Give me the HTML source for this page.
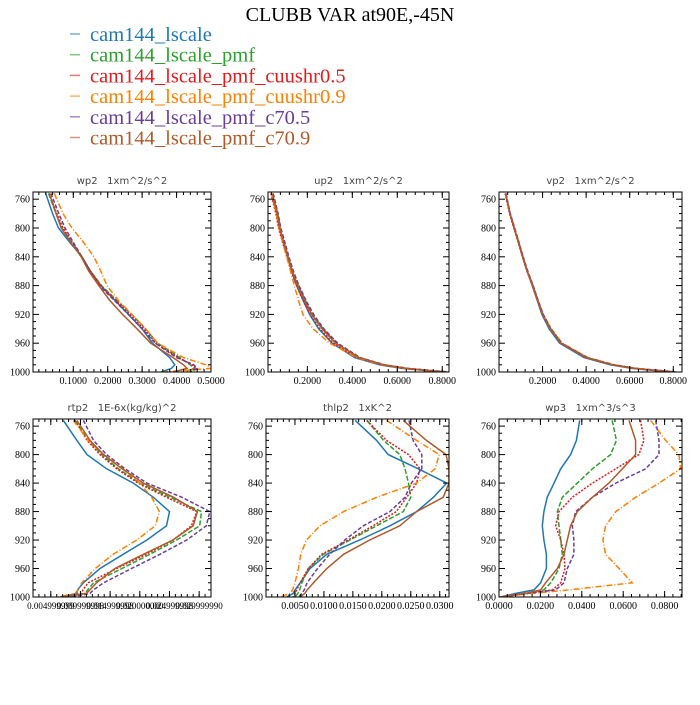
<!DOCTYPE html>
<html><head><meta charset="utf-8">
<style>
body{margin:0;background:#fff;}
svg text{font-family:"Liberation Serif",serif;}
.pt{font-family:"DejaVu Sans","Liberation Sans",sans-serif;font-size:10px;fill:#444;white-space:pre;}
</style></head>
<body>
<svg id="chart" width="700" height="700" xmlns="http://www.w3.org/2000/svg">
<rect width="700" height="700" fill="#fff"/>
<text x="350" y="21" text-anchor="middle" font-size="20" fill="#000">CLUBB VAR at90E,-45N</text>
<g id="legend"></g>
<g id="panels"></g>
</svg>
<script>
const levels=[752,780,800,820,840,860,880,900,920,940,960,980,990,995,1000];
const seriesNames=["cam144_lscale","cam144_lscale_pmf","cam144_lscale_pmf_cuushr0.5","cam144_lscale_pmf_cuushr0.9","cam144_lscale_pmf_c70.5","cam144_lscale_pmf_c70.9"];
const yTicks=[760,800,840,880,920,960,1000];

const wp2_blue=[0.02,0.04,0.057,0.09,0.125,0.15,0.18,0.22,0.26,0.30,0.33,0.38,0.395,0.385,0.355];
const wp2_green=[0.028,0.05,0.067,0.095,0.125,0.15,0.182,0.225,0.27,0.31,0.345,0.41,0.44,0.45,0.43];
const wp2_red=[0.03,0.052,0.07,0.097,0.125,0.15,0.18,0.223,0.265,0.305,0.34,0.405,0.445,0.455,0.44];
const wp2_orange=[0.045,0.07,0.096,0.13,0.16,0.18,0.198,0.23,0.27,0.31,0.345,0.42,0.485,0.50,0.36];
const wp2_purple=[0.035,0.058,0.076,0.1,0.125,0.148,0.176,0.218,0.26,0.3,0.338,0.40,0.45,0.46,0.44];
const wp2_brown=[0.03,0.05,0.065,0.093,0.123,0.145,0.174,0.205,0.243,0.285,0.325,0.39,0.42,0.43,0.39];
const wp2_ticks=[0.1,0.2,0.3,0.4,0.5];
const wp2_labels=["0.1000","0.2000","0.3000","0.4000","0.5000"];

const up2_blue=[0.04,0.065,0.076,0.093,0.112,0.13,0.152,0.18,0.21,0.25,0.31,0.41,0.52,0.62,0.8];
const up2_green=[0.045,0.068,0.08,0.097,0.115,0.135,0.16,0.19,0.225,0.27,0.33,0.43,0.54,0.64,0.82];
const up2_red=[0.038,0.06,0.072,0.09,0.108,0.128,0.152,0.18,0.213,0.255,0.315,0.42,0.53,0.63,0.8];
const up2_orange=[0.04,0.062,0.074,0.09,0.108,0.125,0.142,0.16,0.18,0.225,0.30,0.42,0.53,0.63,0.8];
const up2_purple=[0.048,0.07,0.082,0.1,0.118,0.138,0.163,0.193,0.228,0.273,0.335,0.435,0.545,0.65,0.83];
const up2_brown=[0.044,0.066,0.078,0.095,0.113,0.133,0.157,0.186,0.22,0.265,0.325,0.43,0.54,0.64,0.81];
const up2_ticks=[0.2,0.4,0.6,0.8];
const up2_labels=["0.2000","0.4000","0.6000","0.8000"];

const vp2_blue=[0.03,0.05,0.069,0.089,0.108,0.129,0.153,0.175,0.197,0.23,0.278,0.39,0.51,0.61,0.79];
const vp2_green=[0.031,0.051,0.071,0.091,0.11,0.131,0.156,0.178,0.202,0.237,0.286,0.405,0.525,0.625,0.81];
const vp2_red=[0.028,0.048,0.068,0.088,0.107,0.128,0.153,0.176,0.2,0.236,0.285,0.4,0.52,0.62,0.8];
const vp2_orange=[0.03,0.05,0.07,0.09,0.109,0.13,0.155,0.178,0.203,0.24,0.29,0.41,0.53,0.63,0.8];
const vp2_purple=[0.032,0.052,0.072,0.092,0.111,0.132,0.157,0.179,0.203,0.238,0.288,0.405,0.525,0.63,0.82];
const vp2_brown=[0.03,0.05,0.07,0.09,0.109,0.13,0.155,0.177,0.2,0.235,0.284,0.40,0.52,0.62,0.8];
const vp2_ticks=[0.2,0.4,0.6,0.8];
const vp2_labels=["0.2000","0.4000","0.6000","0.8000"];

const rtp2_blue=[0.0071,0.0094,0.0111,0.0144,0.0189,0.0223,0.0250,0.0245,0.0212,0.0172,0.0133,0.0105,0.0095,0.0094,0.0068];
const rtp2_green=[0.0091,0.0113,0.0136,0.0164,0.0200,0.0251,0.0304,0.0301,0.0262,0.0217,0.0170,0.0122,0.0112,0.0108,0.0077];
const rtp2_red=[0.0091,0.0111,0.0133,0.0161,0.0197,0.0245,0.0296,0.0287,0.0256,0.0211,0.0161,0.0113,0.0104,0.0102,0.0074];
const rtp2_orange=[0.0088,0.0113,0.0139,0.0172,0.0200,0.0220,0.0233,0.0226,0.0195,0.0155,0.0125,0.0102,0.0096,0.0091,0.0063];
const rtp2_purple=[0.0105,0.0122,0.0144,0.0175,0.0212,0.0271,0.0318,0.0312,0.0279,0.0234,0.0186,0.0139,0.0122,0.0116,0.0085];
const rtp2_brown=[0.0094,0.0116,0.0139,0.0170,0.0206,0.0257,0.0297,0.0290,0.0256,0.0206,0.0158,0.0127,0.0116,0.0110,0.0066];
const rtp2_ticks=[0.005,0.01,0.015,0.02,0.025,0.03];
const rtp2_labels=["0.004999999","0.009999998","0.014999998","0.020000000","0.024999998","0.029999990"];

const thlp2_blue=[0.0154,0.0191,0.0211,0.0263,0.0312,0.0289,0.0260,0.0214,0.0162,0.0105,0.0076,0.0059,0.0050,0.0047,0.0036];
const thlp2_green=[0.0174,0.0203,0.0231,0.0240,0.0246,0.0250,0.0237,0.0191,0.0145,0.0099,0.0073,0.0062,0.0058,0.0055,0.0050];
const thlp2_red=[0.0174,0.0208,0.0246,0.0266,0.0260,0.0243,0.0225,0.0185,0.0142,0.0096,0.0073,0.0059,0.0053,0.0050,0.0047];
const thlp2_orange=[0.0208,0.0260,0.0299,0.0292,0.0260,0.0191,0.0134,0.0093,0.0070,0.0060,0.0056,0.0050,0.0046,0.0042,0.0024];
const thlp2_purple=[0.0247,0.0254,0.0269,0.0269,0.0251,0.0240,0.0214,0.0168,0.0136,0.0110,0.0089,0.0071,0.0066,0.0062,0.0056];
const thlp2_brown=[0.0237,0.0277,0.0311,0.0316,0.0316,0.0306,0.0260,0.0231,0.0179,0.0134,0.0105,0.0082,0.0071,0.0067,0.0059];
const thlp2_ticks=[0.005,0.01,0.015,0.02,0.025,0.03];
const thlp2_labels=["0.0050","0.0100","0.0150","0.0200","0.0250","0.0300"];

const wp3_blue=[0.039,0.0374,0.0346,0.0298,0.0266,0.0233,0.0217,0.0209,0.0217,0.0229,0.0229,0.0201,0.0169,0.0081,0.0008];
const wp3_green=[0.0547,0.0567,0.0539,0.0451,0.0378,0.0306,0.0282,0.029,0.0298,0.0306,0.029,0.025,0.0217,0.0121,0.0008];
const wp3_red=[0.0684,0.07,0.0676,0.0564,0.0451,0.0354,0.029,0.0274,0.0298,0.0314,0.0319,0.0298,0.0258,0.0129,0.0008];
const wp3_orange=[0.0733,0.0805,0.0869,0.0877,0.0773,0.066,0.0564,0.0515,0.0502,0.0515,0.058,0.0644,0.0338,0.0161,0];
const wp3_purple=[0.0757,0.0773,0.0773,0.0708,0.0564,0.0451,0.037,0.0354,0.0362,0.0362,0.033,0.0314,0.0274,0.0137,0.0008];
const wp3_brown=[0.0628,0.066,0.066,0.0596,0.0531,0.0451,0.0378,0.0346,0.033,0.0314,0.0282,0.0225,0.0201,0.0129,0.0008];
const wp3_ticks=[0,0.02,0.04,0.06,0.08];
const wp3_labels=["0.0000","0.0200","0.0400","0.0600","0.0800"];

const colors=["#1f78b4","#2ca02c","#e41a1c","#ff7f00","#6a3d9a","#b15928"];
const dashes=["","5,2","2,1.5","6,2,1,2","4,2",""];
const NS="http://www.w3.org/2000/svg";
function mk(tag,attrs,parent){const e=document.createElementNS(NS,tag);for(const k in attrs)e.setAttribute(k,attrs[k]);parent.appendChild(e);return e;}

const lg=document.getElementById('legend');
seriesNames.forEach((n,i)=>{
  const y=34+i*20.7;
  const ln=mk('line',{x1:70,x2:80,y1:y,y2:y,stroke:colors[i],'stroke-width':1.5,opacity:0.6},lg);
  
  
  const t=mk('text',{x:90,y:y+7,'font-size':20.5,fill:colors[i]},lg);
  t.textContent=n;
  
  
});

const panels=[
 {name:"wp2",title:"wp2\u00a0\u00a0\u00a01xm^2/s^2",x0:33,x1:211,y0:192,y1:372,xmin:-0.017,xmax:0.5,minor:0.02,ticks:wp2_ticks,labels:wp2_labels,data:[wp2_blue,wp2_green,wp2_red,wp2_orange,wp2_purple,wp2_brown]},
 {name:"up2",title:"up2\u00a0\u00a0\u00a01xm^2/s^2",x0:268,x1:449,y0:192,y1:372,xmin:0.025,xmax:0.83,minor:0.04,ticks:up2_ticks,labels:up2_labels,data:[up2_blue,up2_green,up2_red,up2_orange,up2_purple,up2_brown]},
 {name:"vp2",title:"vp2\u00a0\u00a0\u00a01xm^2/s^2",x0:499,x1:682,y0:192,y1:372,xmin:0.0,xmax:0.84,minor:0.04,ticks:vp2_ticks,labels:vp2_labels,data:[vp2_blue,vp2_green,vp2_red,vp2_orange,vp2_purple,vp2_brown]},
 {name:"rtp2",title:"rtp2\u00a0\u00a0\u00a01E-6x(kg/kg)^2",x0:33,x1:211,y0:419,y1:597,xmin:0.002,xmax:0.032,minor:0.001,ticks:rtp2_ticks,labels:rtp2_labels,data:[rtp2_blue,rtp2_green,rtp2_red,rtp2_orange,rtp2_purple,rtp2_brown],lfs:9},
 {name:"thlp2",title:"thlp2\u00a0\u00a0\u00a01xK^2",x0:266,x1:449,y0:419,y1:597,xmin:0.0,xmax:0.0316,minor:0.001,ticks:thlp2_ticks,labels:thlp2_labels,data:[thlp2_blue,thlp2_green,thlp2_red,thlp2_orange,thlp2_purple,thlp2_brown]},
 {name:"wp3",title:"wp3\u00a0\u00a0\u00a01xm^3/s^3",x0:499,x1:682,y0:419,y1:597,xmin:0.0,xmax:0.0884,minor:0.004,ticks:wp3_ticks,labels:wp3_labels,data:[wp3_blue,wp3_green,wp3_red,wp3_orange,wp3_purple,wp3_brown]}
];
const root=document.getElementById('panels');
panels.forEach(p=>{
  const g=mk('g',{},root);
  
  
  const sx=v=>p.x0+(v-p.xmin)/(p.xmax-p.xmin)*(p.x1-p.x0);
  const sy=v=>p.y0+(v-750)/250*(p.y1-p.y0);
  const t=mk('text',{x:(p.x0+p.x1)/2,y:p.y0-8,'text-anchor':'middle',class:'pt'},g);
  t.textContent=p.title;
  
  
  const cid='clip-'+p.name;
  const cp=mk('clipPath',{id:cid},g);
  mk('rect',{x:p.x0,y:p.y0,width:p.x1-p.x0,height:p.y1-p.y0},cp);
  const lines=mk('g',{'clip-path':'url(#'+cid+')'},g);
  p.data.forEach((arr,i)=>{
    const pts=arr.map((v,j)=>sx(v).toFixed(1)+','+sy(levels[j]).toFixed(1)).join(' ');
    const pl=mk('polyline',{points:pts,fill:'none',stroke:colors[i],'stroke-width':1.5},lines);
    if(dashes[i])pl.setAttribute('stroke-dasharray',dashes[i]);
    
    
  });
  const fr=mk('rect',{x:p.x0,y:p.y0,width:p.x1-p.x0,height:p.y1-p.y0,fill:'none',stroke:'#000','stroke-width':1},g);
  
  
  const tk=mk('g',{stroke:'#000','stroke-width':1},g);
  for(let v=760;v<=1000;v+=10){
    const y=sy(v);const major=(v%40===0);const L=major?6:3;
    mk('line',{x1:p.x0,x2:p.x0+L,y1:y,y2:y},tk);
    mk('line',{x1:p.x1,x2:p.x1-L,y1:y,y2:y},tk);
  }
  yTicks.forEach(v=>{
    const yl=mk('text',{x:p.x0-3,y:sy(v)+3.5,'text-anchor':'end','font-size':10,fill:'#000'},g);
    yl.textContent=v;
    
    
  });
  const start=Math.ceil(p.xmin/p.minor)*p.minor;
  for(let v=start;v<=p.xmax+1e-9;v+=p.minor){
    const x=sx(v);
    mk('line',{x1:x,x2:x,y1:p.y1,y2:p.y1-3},tk);
    mk('line',{x1:x,x2:x,y1:p.y0,y2:p.y0+3},tk);
  }
  p.ticks.forEach((v,i)=>{
    const x=sx(v);
    mk('line',{x1:x,x2:x,y1:p.y1,y2:p.y1-6},tk);
    mk('line',{x1:x,x2:x,y1:p.y0,y2:p.y0+6},tk);
    const xl=mk('text',{x:x,y:p.y1+12,'text-anchor':'middle','font-size':p.lfs||10,fill:'#000'},g);
    xl.textContent=p.labels[i];
    
    
  });
});
</script>
</body></html>
